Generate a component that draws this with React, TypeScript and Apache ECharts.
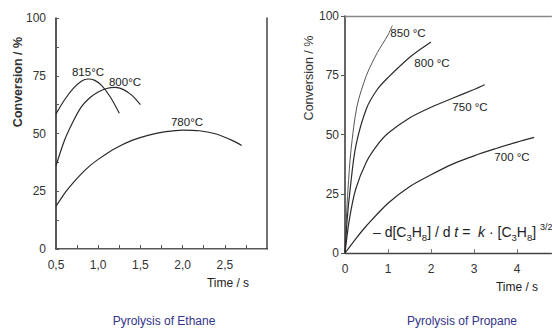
import React, { useEffect, useRef } from "react";
import * as echarts from "echarts";

// ---- Ethane (left panel) ----
const ethane815: number[][] = [[0.5, 58.5], [0.6, 64.5], [0.7, 69.3], [0.8, 72.6], [0.88, 73.6], [0.96, 73], [1.04, 70.8], [1.14, 66], [1.25, 58.8]];
const ethane800: number[][] = [[0.5, 36], [0.6, 47], [0.7, 55], [0.8, 61.5], [0.9, 65.5], [1.0, 68], [1.1, 69.5], [1.2, 70], [1.3, 69], [1.4, 66.5], [1.5, 62.5]];
const ethane780: number[][] = [[0.5, 18.5], [0.6, 24], [0.7, 28.5], [0.8, 32.5], [0.9, 36], [1.0, 38.8], [1.2, 43.5], [1.4, 47], [1.6, 49.3], [1.8, 50.8], [2.0, 51.5], [2.2, 51.2], [2.4, 49.8], [2.6, 46.8], [2.7, 44.8]];

// ---- Propane (right panel) ----
const propane850: number[][] = [[0, 0], [0.03, 14], [0.07, 27], [0.14, 43.5], [0.28, 62], [0.5, 75], [0.75, 84.5], [1.0, 92], [1.1, 96]];
const propane800: number[][] = [[0, 0], [0.05, 14], [0.12, 27], [0.25, 45], [0.5, 61], [0.75, 69], [1.0, 74], [1.5, 82.5], [2.0, 89]];
const propane750: number[][] = [[0, 0], [0.1, 14], [0.25, 27], [0.5, 38.5], [0.75, 45.5], [1.0, 50.5], [1.5, 57], [2.0, 61.5], [2.5, 65.3], [3.0, 69], [3.25, 71]];
const propane700: number[][] = [[0, 0], [0.25, 6], [0.5, 11.5], [1.0, 21], [1.5, 28], [2.0, 33], [2.5, 37.5], [3.0, 41], [3.5, 44], [4.0, 46.8], [4.4, 48.8]];

const ethaneLabels = ["815°C", "800°C", "780°C"];
const propaneLabels = ["850 °C", "800 °C", "750 °C", "700 °C"];

const FONT = "Liberation Sans, Arial, sans-serif";

export default function App() {
  const ref = useRef<HTMLDivElement>(null);
  useEffect(() => {
    if (!ref.current) return;
    const chart = echarts.init(ref.current, undefined, { renderer: "svg" });
    const mk = (data: number[][], xi: number, yi: number, color = "#2a2a2a", width = 1.2) => ({
      type: "line",
      data,
      xAxisIndex: xi,
      yAxisIndex: yi,
      smooth: 0.3,
      showSymbol: false,
      symbol: "none",
      lineStyle: { color, width },
      silent: true,
    });
    const hidden = { show: false };
    const txt = (text: string, x: number, y: number, size = 11, extra: any = {}) => ({
      type: "text",
      x,
      y,
      style: { text, fill: "#222", font: `${size}px ${FONT}`, align: "center", verticalAlign: "middle", ...extra },
    });
    chart.setOption({
      animation: false,
      backgroundColor: "#ffffff",
      textStyle: { fontFamily: FONT },
      grid: [
        { left: 56, top: 18, width: 211, height: 231 },
        { left: 345, top: 16, width: 206.4, height: 237 },
      ],
      xAxis: [
        {
          type: "value", gridIndex: 0, min: 0.5, max: 3.0, interval: 0.25, position: "bottom",
          axisLine: { lineStyle: { color: "#222", width: 1.5 } },
          axisTick: { inside: true, length: 4, lineStyle: { color: "#555" } },
          axisLabel: {
            margin: 10, fontSize: 12, color: "#333", fontFamily: FONT, showMaxLabel: false,
            formatter: (v: number) => (Math.abs(v * 2 - Math.round(v * 2)) < 1e-6 && v < 2.9 ? v.toFixed(1).replace(".", ",") : ""),
          },
          splitLine: hidden,
        },
        {
          type: "value", gridIndex: 0, min: 0.5, max: 3.0, position: "top",
          axisLine: { lineStyle: { color: "#aaa", width: 1.2 } },
          axisTick: hidden, axisLabel: hidden, splitLine: hidden,
        },
        {
          type: "value", gridIndex: 1, min: 0, max: 4.8, interval: 1, position: "bottom",
          axisLine: { lineStyle: { color: "#444", width: 1.3 } },
          axisTick: { inside: true, length: 4, lineStyle: { color: "#777" } },
          axisLabel: { margin: 10, fontSize: 12, color: "#333", fontFamily: FONT, showMaxLabel: false },
          splitLine: hidden,
        },
        {
          type: "value", gridIndex: 1, min: 0, max: 4.8, position: "top",
          axisLine: { lineStyle: { color: "#888", width: 1.3 } },
          axisTick: hidden, axisLabel: hidden, splitLine: hidden,
        },
      ],
      yAxis: [
        {
          type: "value", gridIndex: 0, min: 0, max: 100, interval: 12.5, position: "left",
          axisLine: { show: true, lineStyle: { color: "#222", width: 1.5 } },
          axisTick: { show: true, inside: true, length: 3, lineStyle: { color: "#555" } },
          axisLabel: {
            margin: 10, fontSize: 12, color: "#333", fontFamily: FONT,
            formatter: (v: number) => (v % 25 === 0 ? String(v) : ""),
          },
          splitLine: hidden,
        },
        {
          type: "value", gridIndex: 0, min: 0, max: 100, position: "right",
          axisLine: { show: true, lineStyle: { color: "#444", width: 1.5 } },
          axisTick: hidden, axisLabel: hidden, splitLine: hidden,
        },
        {
          type: "value", gridIndex: 1, min: 0, max: 100, interval: 25, position: "left",
          axisLine: { show: true, lineStyle: { color: "#333", width: 1.5 } },
          axisTick: { show: true, inside: false, length: 4, lineStyle: { color: "#555" } },
          axisLabel: { margin: 6, fontSize: 12, color: "#333", fontFamily: FONT },
          splitLine: hidden,
        },
      ],
      series: [
        mk(ethane815, 0, 0),
        mk(ethane800, 0, 0),
        mk(ethane780, 0, 0),
        mk(propane850, 2, 2, "#555", 1.0),
        mk(propane800, 2, 2, "#2a2a2a", 1.2),
        mk(propane750, 2, 2, "#2a2a2a", 1.2),
        mk(propane700, 2, 2, "#2a2a2a", 1.2),
      ],
      graphic: [
        txt(ethaneLabels[0], 88, 72, 11.5),
        txt(ethaneLabels[1], 125, 82, 11.5),
        txt(ethaneLabels[2], 187, 122, 11.5),
        txt(propaneLabels[0], 408, 33, 11.5),
        txt(propaneLabels[1], 432, 63, 11.5),
        txt(propaneLabels[2], 470, 107, 11.5),
        txt(propaneLabels[3], 512, 157, 11.5),
        txt("Time / s", 228, 283, 12),
        txt("Time / s", 517, 287, 12),
        { ...txt("Conversion / %", 18, 82, 13, { fill: "#333", font: `bold 12.5px ${FONT}` }), rotation: Math.PI / 2 },
        { ...txt("Conversion / %", 309, 78, 13, { fill: "#333", font: `12.5px ${FONT}` }), rotation: Math.PI / 2 },
        txt("Pyrolysis of Ethane", 164, 321, 12, { fill: "#33338a" }),
        txt("Pyrolysis of Propane", 462, 321, 12, { fill: "#33338a" }),
        {
          type: "text",
          x: 373,
          y: 232,
          style: {
            text: "– d[C{sub|3}H{sub|8}] / d {it|t} =  {it|k} · [C{sub|3}H{sub|8}] {sup|3/2}",
            font: `14px ${FONT}`,
            fill: "#222",
            align: "left",
            verticalAlign: "middle",
            rich: {
              sub: { fontSize: 9.5, fontFamily: FONT, fill: "#222", verticalAlign: "bottom", lineHeight: 20 } as any,
              sup: { fontSize: 9, fontFamily: FONT, fill: "#222", verticalAlign: "top", lineHeight: 18 } as any,
              it: { fontSize: 14, fontStyle: "italic", fontFamily: FONT, fill: "#222" },
            },
          },
        },
      ],
    });
    return () => chart.dispose();
  }, []);
  return <div ref={ref} style={{ position: "fixed", left: 0, top: 0, width: 552, height: 328 }} />;
}
